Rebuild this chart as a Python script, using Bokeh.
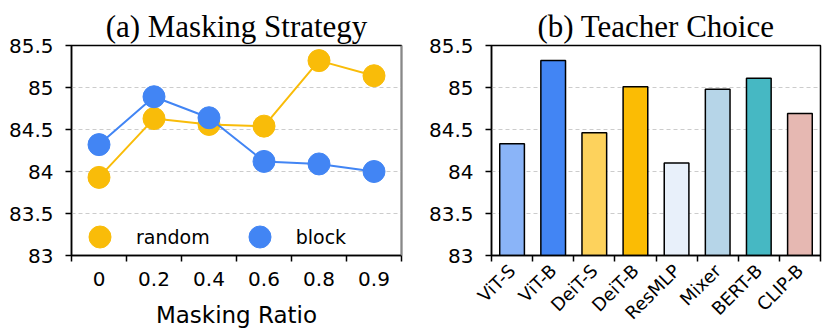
from math import pi
from bokeh.plotting import figure
from bokeh.layouts import row
from bokeh.models import (Range1d, FixedTicker, Legend, LegendItem, LinearAxis,
                          ColumnDataSource, Title)
from bokeh.embed import file_html
from bokeh.resources import INLINE

# ---------------- data ----------------
ratios = ["0", "0.2", "0.4", "0.6", "0.8", "0.9"]
random_acc = [83.93, 84.63, 84.56, 84.54, 85.32, 85.14]
block_acc = [84.32, 84.89, 84.64, 84.12, 84.09, 84.00]

teachers = ["ViT-S", "ViT-B", "DeiT-S", "DeiT-B", "ResMLP", "Mixer", "BERT-B", "CLIP-B"]
teacher_acc = [84.33, 85.32, 84.46, 85.01, 84.10, 84.98, 85.11, 84.69]
teacher_colors = ["#8AB4F8", "#4285F4", "#FDD25C", "#FBBC04", "#E8F0FA",
                  "#B6D5E8", "#46B8C3", "#E6B8B2"]

y_ticks = [83, 83.5, 84, 84.5, 85, 85.5]
y_tick_labels = ["83", "83.5", "84", "84.5", "85", "85.5"]
y_min, y_max = 83, 85.5

YELLOW = "#F9BC09"
BLUE = "#4285F4"
SANS = "DejaVu Sans"
SERIF = "Liberation Serif"


def style_common(p, n):
    p.y_range = Range1d(y_min, y_max)
    p.x_range = Range1d(0, n)
    p.xgrid.grid_line_color = None
    p.ygrid.ticker = FixedTicker(ticks=y_ticks)
    p.ygrid.grid_line_color = "#cccccc"
    p.ygrid.grid_line_dash = "4 3"
    p.ygrid.grid_line_width = 1
    p.outline_line_color = "black"
    p.outline_line_width = 1.5
    p.outline_line_alpha = 1
    p.background_fill_color = "white"
    p.border_fill_color = "white"

    ya = p.yaxis[0]
    ya.ticker = FixedTicker(ticks=y_ticks)
    ya.major_label_overrides = {t: l for t, l in zip(y_ticks, y_tick_labels)}
    ya.major_label_text_font = SANS
    ya.major_label_text_font_size = "20px"
    ya.major_label_text_color = "black"
    ya.axis_line_color = "black"
    ya.axis_line_width = 1.5
    ya.major_tick_in = 0
    ya.major_tick_out = 6
    ya.major_tick_line_width = 1.5
    ya.major_tick_line_color = "black"
    ya.minor_tick_line_color = None
    ya.major_label_standoff = 12

    xa = p.xaxis[0]
    centers = [i + 0.5 for i in range(n)]
    xa.ticker = FixedTicker(ticks=centers, minor_ticks=list(range(n + 1)))
    xa.axis_line_color = "black"
    xa.axis_line_width = 1.5
    xa.major_tick_line_color = None
    xa.major_tick_in = 0
    xa.major_tick_out = 0
    xa.minor_tick_in = 0
    xa.minor_tick_out = 6
    xa.minor_tick_line_color = "black"
    xa.minor_tick_line_width = 1.5
    xa.major_label_text_font = SANS
    xa.major_label_text_font_size = "20px"
    xa.major_label_text_color = "black"
    return centers


def add_title(p, text):
    p.add_layout(Title(text=text, text_font=SERIF, text_font_size="31px",
                       text_font_style="normal", text_color="black",
                       align="center", offset=0, standoff=4), "above")


# ---------------- (a) Masking Strategy ----------------
p1 = figure(width=415, height=335, output_backend="svg", toolbar_location=None,
            min_border_left=71, min_border_right=14, min_border_top=45,
            min_border_bottom=80, title=None)
centers1 = style_common(p1, len(ratios))
p1.xaxis[0].major_label_overrides = {c: r for c, r in zip(centers1, ratios)}
p1.xaxis[0].major_label_standoff = 10
p1.xaxis[0].major_label_text_line_height = 0.9
p1.xaxis[0].axis_label = "Masking Ratio"
p1.xaxis[0].axis_label_text_font = SANS
p1.xaxis[0].axis_label_text_font_size = "23px"
p1.xaxis[0].axis_label_text_font_style = "normal"
p1.xaxis[0].axis_label_text_color = "black"
p1.xaxis[0].axis_label_text_line_height = 0.9
p1.xaxis[0].axis_label_standoff = 13
add_title(p1, "(a) Masking Strategy")

# grey right border of panel (a)
ra = LinearAxis(ticker=FixedTicker(ticks=[]), major_label_text_font_size="0px",
                axis_line_color="#888888", axis_line_width=1.5,
                major_tick_line_color=None, minor_tick_line_color=None,
                major_label_standoff=0)
p1.add_layout(ra, "right")

src = ColumnDataSource(dict(x=centers1, rnd=random_acc, blk=block_acc))
p1.line("x", "rnd", source=src, line_color=YELLOW, line_width=2)
r_rnd = p1.scatter("x", "rnd", source=src, size=22, fill_color=YELLOW, line_color=YELLOW)
p1.line("x", "blk", source=src, line_color=BLUE, line_width=2)
r_blk = p1.scatter("x", "blk", source=src, size=22, fill_color=BLUE, line_color=BLUE)

leg = Legend(items=[LegendItem(label="random", renderers=[r_rnd]),
                    LegendItem(label="block", renderers=[r_blk])],
             orientation="horizontal", location=(1, -9),
             glyph_width=55, glyph_height=55, label_standoff=9, spacing=22,
             padding=0, margin=0, border_line_color=None,
             background_fill_alpha=0,
             label_text_font=SANS, label_text_font_size="19px",
             label_text_color="black")
p1.add_layout(leg, "center")

# ---------------- (b) Teacher Choice ----------------
p2 = figure(width=415, height=335, output_backend="svg", toolbar_location=None,
            min_border_left=76, min_border_right=10, min_border_top=45,
            min_border_bottom=80, title=None)
centers2 = style_common(p2, len(teachers))
p2.xaxis[0].major_label_overrides = {c: t for c, t in zip(centers2, teachers)}
p2.xaxis[0].major_label_orientation = pi / 4
p2.xaxis[0].major_label_standoff = 6
p2.xaxis[0].major_label_text_font_size = "18px"
add_title(p2, "(b) Teacher Choice")

src2 = ColumnDataSource(dict(x=centers2, top=teacher_acc, color=teacher_colors))
p2.vbar(x="x", top="top", bottom=y_min, width=0.6, source=src2,
        fill_color="color", line_color="black", line_width=1.5)

layout = row(p1, p2)
open("out.html", "w").write(file_html(layout, INLINE))
